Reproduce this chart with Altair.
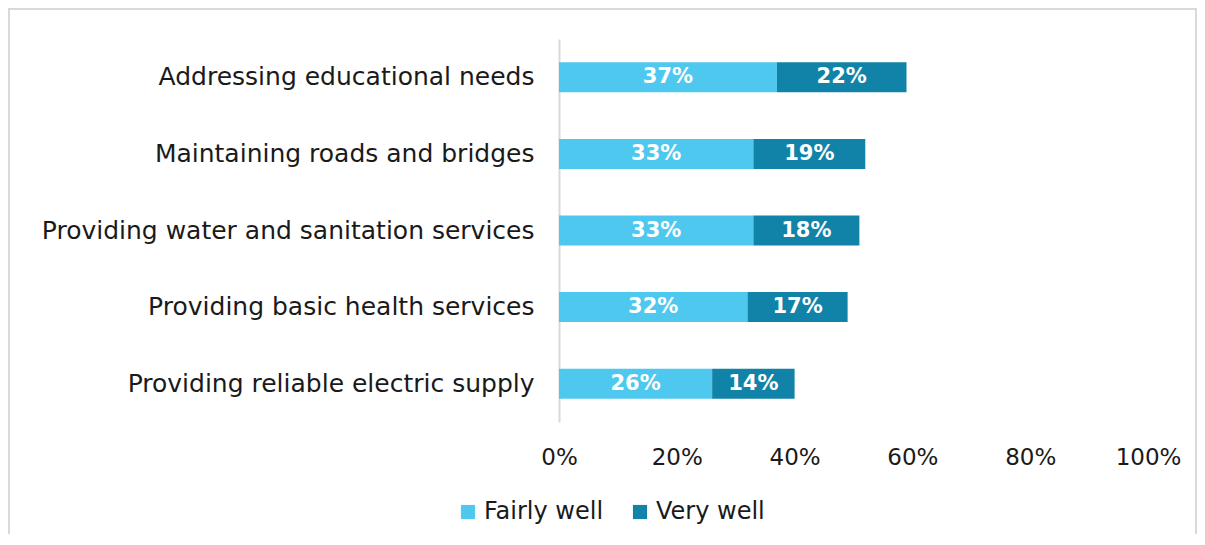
import altair as alt
import pandas as pd

categories = [
    "Addressing educational needs",
    "Maintaining roads and bridges",
    "Providing water and sanitation services",
    "Providing basic health services",
    "Providing reliable electric supply",
]
fairly_well = [37, 33, 33, 32, 26]
very_well = [22, 19, 18, 17, 14]
series = ["Fairly well", "Very well"]
colors = ["#4FC8EF", "#1283A8"]
x_ticks = [0, 20, 40, 60, 80, 100]

rows = []
for c, f, v in zip(categories, fairly_well, very_well):
    rows.append({"cat": c, "series": "Fairly well", "val": f / 100, "start": 0, "end": f / 100, "order": 0})
    rows.append({"cat": c, "series": "Very well", "val": v / 100, "start": f / 100, "end": (f + v) / 100, "order": 1})
df = pd.DataFrame(rows)
df["mid"] = (df["start"] + df["end"]) / 2
df["label"] = (df["val"] * 100).round().astype(int).astype(str) + "%"

FONT = "DejaVu Sans"
TXT = "#1a1a1a"

y_enc = alt.Y("cat:N", sort=categories, title=None,
              scale=alt.Scale(paddingInner=0.6, paddingOuter=0.3),
              axis=alt.Axis(labelFontSize=25, labelFont=FONT, labelColor=TXT,
                            labelPadding=25, ticks=False, domainColor="#d9d9d9",
                            domainWidth=2, labelLimit=600))
x_scale = alt.Scale(domain=[0, 1], nice=False)

bars = alt.Chart(df).mark_bar(size=30).encode(
    x=alt.X("start:Q", scale=x_scale, title=None,
            axis=alt.Axis(values=[t / 100 for t in x_ticks], format=".0%", grid=False,
                          domain=False, ticks=False, labelFontSize=23, labelFont=FONT,
                          labelColor=TXT, labelPadding=24, labelFlush=False)),
    x2="end:Q",
    y=y_enc,
    color=alt.Color("series:N", scale=alt.Scale(domain=series, range=colors), title=None,
                    legend=alt.Legend(orient="none", legendX=-103, legendY=461,
                                      direction="horizontal", symbolType="square",
                                      symbolSize=200, symbolStrokeWidth=0,
                                      labelFontSize=24, labelFont=FONT, labelColor=TXT,
                                      columnPadding=24, labelOffset=4)),
    order="order:Q",
)

text = alt.Chart(df).mark_text(color="white", fontWeight="bold", fontSize=21, font=FONT).encode(
    x=alt.X("mid:Q", scale=x_scale),
    y=alt.Y("cat:N", sort=categories),
    text="label:N",
)

border = alt.Chart(pd.DataFrame({"a": [0]})).mark_rect(
    fill=None, stroke="#d9d9d9", strokeWidth=2
).encode(x=alt.value(-550), x2=alt.value(637), y=alt.value(-30), y2=alt.value(560))

chart = alt.layer(border, bars, text).properties(
    width=589, height=383,
    background="white",
    autosize=alt.AutoSizeParams(type="none"),
    padding={"left": 551, "top": 31, "right": 49, "bottom": 112},
).configure_view(stroke=None)

chart.save("out.html", embed_options={"renderer": "svg", "actions": False})
